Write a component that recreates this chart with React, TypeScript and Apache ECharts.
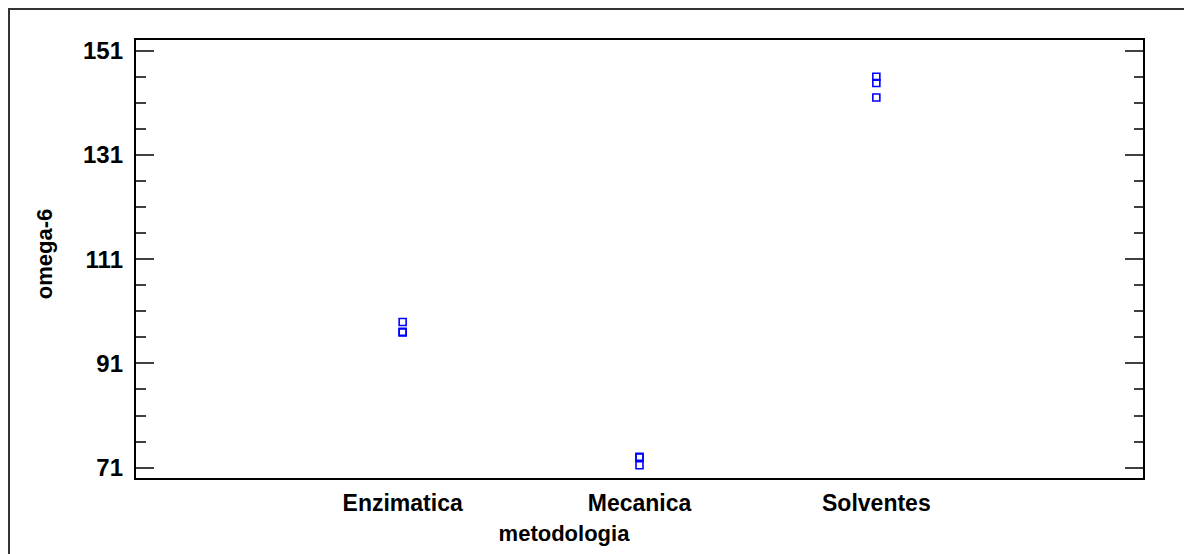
import React, { useEffect, useRef } from "react";
import * as echarts from "echarts";

const categories = ["Enzimatica", "Mecanica", "Solventes"];
const enzimatica = [98.9, 97.0, 96.9];
const mecanica = [73.0, 72.9, 71.4];
const solventes = [146.0, 144.8, 142.0];
const majorTicks = [71, 91, 111, 131, 151];
const minorTicks = [76, 81, 86, 96, 101, 106, 116, 121, 126, 136, 141, 146];
const xTitle = "metodologia";
const yTitle = "omega-6";

const FONT = '"Liberation Sans", Arial, sans-serif';
const Y_MIN = 68.76;
const Y_MAX = 153.24;

export default function App() {
  const ref = useRef<HTMLDivElement>(null);
  useEffect(() => {
    if (!ref.current) return;
    const chart = echarts.init(ref.current, undefined, { renderer: "svg" });
    const groups = [enzimatica, mecanica, solventes];
    const data: number[][] = [];
    groups.forEach((vals, i) => vals.forEach((v) => data.push([i + 1, v])));

    const yBase = (position: string, ticks: number[], len: number, labels: boolean) => ({
      type: "value",
      position,
      offset: 0,
      min: Y_MIN,
      max: Y_MAX,
      axisLine: { show: false },
      splitLine: { show: false },
      axisTick: len > 0
        ? {
            show: true,
            inside: true,
            length: len,
            customValues: ticks,
            lineStyle: { color: "#000", width: 1.5 },
          }
        : { show: false },
      axisLabel: labels
        ? {
            show: true,
            customValues: ticks,
            fontFamily: FONT,
            fontWeight: "bold",
            fontSize: 24,
            color: "#000",
            margin: 12,
          }
        : { show: false },
    });

    chart.setOption({
      animation: false,
      grid: {
        left: 135,
        right: 40,
        top: 39,
        bottom: 75,
        show: true,
        borderColor: "#000",
        borderWidth: 2,
        backgroundColor: "transparent",
      },
      xAxis: {
        type: "value",
        min: -0.13,
        max: 4.13,
        axisLine: { show: false },
        axisTick: { show: false },
        splitLine: { show: false },
        axisLabel: {
          customValues: [1, 2, 3],
          formatter: (v: number) => categories[Math.round(v) - 1] ?? "",
          fontFamily: FONT,
          fontWeight: "bold",
          fontSize: 23,
          color: "#000",
          margin: 12,
        },
      },
      yAxis: [
        yBase("left", majorTicks, 0, true),
        yBase("left", majorTicks, 19, false),
        yBase("left", minorTicks, 11, false),
        yBase("right", majorTicks, 19, false),
        yBase("right", minorTicks, 10, false),
      ],
      graphic: [
        {
          type: "rect",
          shape: { x: 9, y: 9, width: 1300, height: 700 },
          style: { fill: "none", stroke: "#333", lineWidth: 2 },
          silent: true,
        },
        {
          type: "text",
          x: 564,
          y: 533,
          style: {
            text: xTitle,
            fontFamily: FONT,
            fontWeight: "bold",
            fontSize: 22,
            fill: "#000",
            textAlign: "center",
            textVerticalAlign: "middle",
          },
        },
        {
          type: "text",
          x: 44,
          y: 254,
          rotation: Math.PI / 2,
          style: {
            text: yTitle,
            fontFamily: FONT,
            fontWeight: "bold",
            fontSize: 22,
            fill: "#000",
            textAlign: "center",
            textVerticalAlign: "middle",
          },
        },
      ],
      series: [
        {
          type: "scatter",
          xAxisIndex: 0,
          yAxisIndex: 0,
          data,
          symbol: "rect",
          symbolSize: 7,
          itemStyle: {
            color: "rgba(255,255,255,0)",
            borderColor: "#0000ff",
            borderWidth: 1.6,
            opacity: 1,
          },
        },
      ],
    });
    return () => chart.dispose();
  }, []);
  return (
    <div
      ref={ref}
      style={{ position: "fixed", left: 0, top: 0, width: 1184, height: 554, background: "#fff" }}
    />
  );
}
